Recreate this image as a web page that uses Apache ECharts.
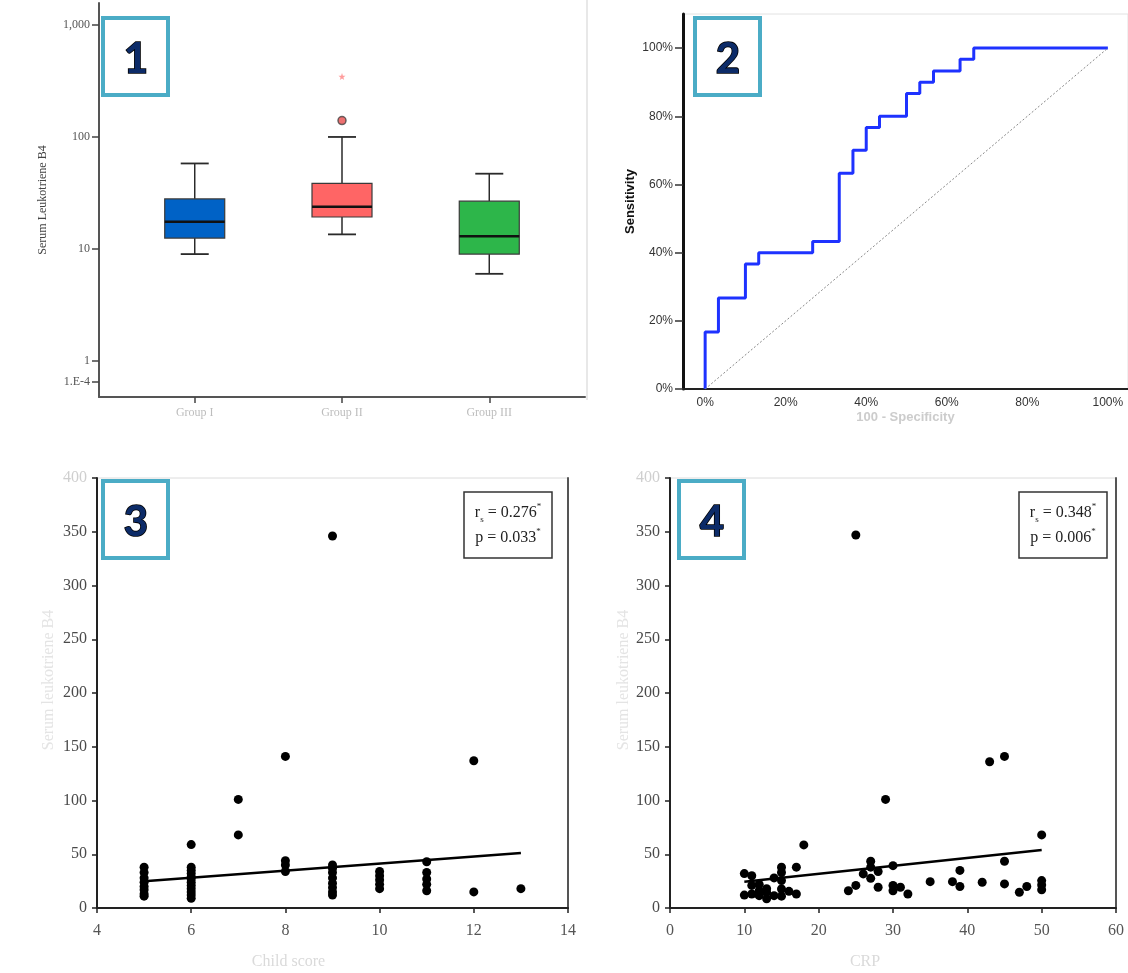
<!DOCTYPE html>
<html><head><meta charset="utf-8">
<script src="https://cdn.jsdelivr.net/npm/echarts@6/dist/echarts.min.js"></script>
<style>html,body{margin:0;padding:0;background:#fff}#c{width:1128px;height:973px}</style>
</head><body><div id="c"></div>
<script>
// ---------- Panel 1: box plot (log scale) ----------
const groups = ['Group I', 'Group II', 'Group III'];
const boxMin    = [9,    13.5, 6];
const boxQ1     = [12.5, 19.3, 9];
const boxMedian = [17.5, 23.8, 13];
const boxQ3     = [28,   38.5, 26.7];
const boxMax    = [58,   100,  47];
const outlierGroup = [2];  const outlierValue = [140];
const extremeGroup = [2];  const extremeValue = [346];
const logTickValues = [0.65, 1, 10, 100, 1000];
const logTickLabels = ['1.E-4', '1', '10', '100', '1,000'];

// ---------- Panel 2: ROC ----------
const rocFpr = [0, 0, 3.3, 10, 13.3, 26.7, 33.3, 36.7, 40, 43.3, 50, 53.3, 56.7, 63.3, 66.7, 100];
const rocTpr = [0, 16.7, 26.7, 36.7, 40, 43.3, 63.3, 70, 76.7, 80, 86.7, 90, 93.3, 96.7, 100, 100];
const chanceX = [0, 100];
const chanceY = [0, 100];
const pctTicks = [0, 20, 40, 60, 80, 100];

// ---------- Panel 3: Child score ----------
const childScore = [5,5,5,5,5,5,5,5, 6,6,6,6,6,6,6,6,6,6,6,6, 7,7, 8,8,8,8, 9,9,9,9,9,9,9,9,9, 10,10,10,10,10, 11,11,11,11,11, 12,12, 13];
const childLtb4  = [38,33,28,24,20,17,13,11, 59,38,35,32,29,27,24,21,18,15,12,9, 101,68, 141,44,40,34, 346,40,37,33,28,23,19,15,12, 34,30,26,22,18, 43,33,27,22,16, 137,15, 18];
const childFitX = [5, 13];
const childFitY = [24.8, 51.2];
const childStat = ['0.276', '0.033'];

// ---------- Panel 4: CRP ----------
const crp     = [10,10,11,11,11,12,12,12,13,13,13,14,14,15,15,15,15,15,16,17,17,18,24,25,25,26,27,27,27,28,28,29,30,30,30,31,32,35,38,39,39,42,43,45,45,45,47,48,50,50,50,50];
const crpLtb4 = [32,12,30,21,13,22,16,11.5,18,14.5,8.5,28,11.5,38,33,25.5,17.7,11,15.5,38,13,58.7,16,21,347,31.7,43.5,38,27.6,34,19.3,101,39.4,21,16,19.3,13,24.5,24.5,35,20,24,136,141,43.5,22.4,14.6,20,68,25.5,21.4,17];
const crpFitX = [10, 50];
const crpFitY = [24.5, 54];
const crpStat = ['0.348', '0.006'];

const sansF = '"Liberation Sans", Arial, sans-serif';
const serifF = '"Liberation Serif", "Times New Roman", serif';
const boxColors = ['#0062c6', '#ff6565', '#2db64a'];

const zip = (a, b) => a.map((v, i) => [v, b[i]]);

function badge(x, y, n) {
  return {
    type: 'group', children: [
      { type: 'rect', shape: { x: x, y: y, width: 65, height: 77 }, style: { fill: '#fff', stroke: '#4bacc6', lineWidth: 4 } },
      { type: 'text', style: { text: n, x: x + 33, y: y + 41, align: 'center', verticalAlign: 'middle',
          font: 'bold 42px Lato, "Open Sans", sans-serif', fill: '#0c2b68', stroke: '#000', lineWidth: 1.6 } }
    ]
  };
}
function statBox(x, y, r, p) {
  const rich = {
    m: { fontFamily: serifF, fontSize: 16, fill: '#222', lineHeight: 22 },
    s: { fontFamily: serifF, fontSize: 9, fill: '#222', verticalAlign: 'bottom', lineHeight: 22 },
    u: { fontFamily: serifF, fontSize: 9, fill: '#222', verticalAlign: 'top', lineHeight: 22 }
  };
  return {
    type: 'group', children: [
      { type: 'rect', shape: { x: x, y: y, width: 88, height: 66 }, style: { fill: '#fff', stroke: '#333', lineWidth: 1.5 } },
      { type: 'text', style: { x: x + 44, y: y + 21, align: 'center', verticalAlign: 'middle', text: '{m|r}{s|s}{m| = ' + r + '}{u|*}', rich: rich } },
      { type: 'text', style: { x: x + 44, y: y + 46, align: 'center', verticalAlign: 'middle', text: '{m|p = ' + p + '}{u|*}', rich: rich } }
    ]
  };
}

const scatterAxisLabel = (valsLight) => ({
  fontFamily: serifF, fontSize: 16, color: '#4a4a4a', margin: 10,
  formatter: v => (v === valsLight ? '{l|' + v + '}' : String(v)),
  rich: { l: { fontFamily: serifF, fontSize: 16, color: '#cfcfcf' } }
});

const option = {
  animation: false,
  backgroundColor: '#fff',
  grid: [
    { left: 99, top: 3, width: 486, height: 394 },
    { left: 683, top: 14, width: 445, height: 375, show: true, borderColor: '#e2e2e2', borderWidth: 1 },
    { left: 97, top: 478, width: 471, height: 430, show: true, borderColor: '#dcdcdc', borderWidth: 1 },
    { left: 670, top: 478, width: 446, height: 430, show: true, borderColor: '#dcdcdc', borderWidth: 1 }
  ],
  xAxis: [
    { type: 'value', gridIndex: 0, min: 0.35, max: 3.65,
      axisLine: { lineStyle: { color: '#555', width: 2 } },
      axisTick: { customValues: [1, 2, 3], length: 6, lineStyle: { color: '#444', width: 1.5 } },
      axisLabel: { customValues: [1, 2, 3], formatter: v => groups[Math.round(v) - 1], fontFamily: serifF, fontSize: 12, color: '#bdbdbd', margin: 10 },
      splitLine: { show: false } },
    { type: 'value', gridIndex: 1, min: -5.5, max: 105,
      name: '100 - Specificity', nameLocation: 'middle', nameGap: 22,
      nameTextStyle: { fontFamily: sansF, fontWeight: 'bold', fontSize: 13, color: '#cccccc' },
      axisLine: { lineStyle: { color: '#222', width: 2 } },
      axisTick: { show: false },
      axisLabel: { customValues: pctTicks, formatter: v => v + '%', fontFamily: sansF, fontSize: 12, color: '#333', margin: 8 },
      splitLine: { show: false } },
    { type: 'value', gridIndex: 2, min: 4, max: 14, interval: 2,
      name: 'Child score', nameLocation: 'middle', nameGap: 46,
      nameTextStyle: { fontFamily: serifF, fontSize: 16, color: '#dadada', padding: [0, 88, 0, 0] },
      axisLine: { lineStyle: { color: '#222', width: 2 } },
      axisTick: { length: 5, lineStyle: { color: '#222', width: 1.5 } },
      axisLabel: { fontFamily: serifF, fontSize: 16, color: '#555', margin: 15 },
      splitLine: { show: false } },
    { type: 'value', gridIndex: 3, min: 0, max: 60, interval: 10,
      name: 'CRP', nameLocation: 'middle', nameGap: 46,
      nameTextStyle: { fontFamily: serifF, fontSize: 16, color: '#dadada', padding: [0, 56, 0, 0] },
      axisLine: { lineStyle: { color: '#222', width: 2 } },
      axisTick: { length: 5, lineStyle: { color: '#222', width: 1.5 } },
      axisLabel: { fontFamily: serifF, fontSize: 16, color: '#555', margin: 15 },
      splitLine: { show: false } }
  ],
  yAxis: [
    { type: 'log', logBase: 10, gridIndex: 0, min: 0.477, max: 1570,
      name: 'Serum Leukotriene B4', nameLocation: 'middle', nameGap: 50,
      nameTextStyle: { fontFamily: serifF, fontSize: 12, color: '#444' },
      axisLine: { show: true, onZero: false, lineStyle: { color: '#555', width: 2 } },
      axisTick: { show: true, customValues: logTickValues, length: 7, lineStyle: { color: '#444', width: 1.5 } },
      axisLabel: { customValues: logTickValues, fontFamily: serifF, fontSize: 12, color: '#555', margin: 9,
        formatter: v => { let best = 0; logTickValues.forEach((t, i) => { if (Math.abs(Math.log(t) - Math.log(v)) < Math.abs(Math.log(logTickValues[best]) - Math.log(v))) best = i; }); return logTickLabels[best]; } },
      splitLine: { show: false } },
    { type: 'value', gridIndex: 1, min: 0, max: 110,
      name: 'Sensitivity', nameLocation: 'middle', nameGap: 46,
      nameTextStyle: { fontFamily: sansF, fontWeight: 'bold', fontSize: 13, color: '#111' },
      axisLine: { onZero: false, lineStyle: { color: '#111', width: 3 } },
      axisTick: { customValues: pctTicks, length: 8, lineStyle: { color: '#333', width: 1.5 } },
      axisLabel: { customValues: pctTicks, formatter: v => v + '%', fontFamily: sansF, fontSize: 12, color: '#333', margin: 10 },
      splitLine: { show: false } },
    { type: 'value', gridIndex: 2, min: 0, max: 400, interval: 50,
      name: 'Serum leukotriene B4', nameLocation: 'middle', nameGap: 40,
      nameTextStyle: { fontFamily: serifF, fontSize: 16, color: '#e4e4e4', padding: [0, 0, 0, 26] },
      axisLine: { lineStyle: { color: '#222', width: 2 } },
      axisTick: { length: 5, lineStyle: { color: '#222', width: 1.5 } },
      axisLabel: scatterAxisLabel(400),
      splitLine: { show: false } },
    { type: 'value', gridIndex: 3, min: 0, max: 400, interval: 50,
      name: 'Serum leukotriene B4', nameLocation: 'middle', nameGap: 38,
      nameTextStyle: { fontFamily: serifF, fontSize: 16, color: '#e4e4e4', padding: [0, 0, 0, 26] },
      axisLine: { lineStyle: { color: '#222', width: 2 } },
      axisTick: { length: 5, lineStyle: { color: '#222', width: 1.5 } },
      axisLabel: scatterAxisLabel(400),
      splitLine: { show: false } },
    { type: 'value', gridIndex: 2, position: 'right', min: 0, max: 400,
      axisLine: { show: true, onZero: false, lineStyle: { color: '#555', width: 2 } }, axisTick: { show: false }, axisLabel: { show: false }, splitLine: { show: false } },
    { type: 'value', gridIndex: 3, position: 'right', min: 0, max: 400,
      axisLine: { show: true, onZero: false, lineStyle: { color: '#555', width: 2 } }, axisTick: { show: false }, axisLabel: { show: false }, splitLine: { show: false } }
  ],
  series: [
    {
      type: 'custom', xAxisIndex: 0, yAxisIndex: 0,
      encode: { x: 0, y: [1, 2, 3, 4, 5] },
      data: groups.map((g, i) => [i + 1, boxMin[i], boxQ1[i], boxMedian[i], boxQ3[i], boxMax[i]]),
      renderItem: function (params, api) {
        const x = api.value(0);
        const p = [1, 2, 3, 4, 5].map(k => api.coord([x, api.value(k)]));
        const cx = p[0][0], half = 30, cap = 14;
        const ln = (x1, y1, x2, y2, w, c) => ({ type: 'line', shape: { x1, y1, x2, y2 }, style: { stroke: c || '#2a2a2a', lineWidth: w } });
        return { type: 'group', children: [
          ln(cx, p[0][1], cx, p[1][1], 1.5),
          ln(cx, p[3][1], cx, p[4][1], 1.5),
          ln(cx - cap, p[0][1], cx + cap, p[0][1], 1.8),
          ln(cx - cap, p[4][1], cx + cap, p[4][1], 1.8),
          { type: 'rect', shape: { x: cx - half, y: p[3][1], width: 2 * half, height: p[1][1] - p[3][1] },
            style: { fill: boxColors[params.dataIndex], stroke: '#3a3a3a', lineWidth: 1.2 } },
          ln(cx - half, p[2][1], cx + half, p[2][1], 2.5, '#111')
        ] };
      }
    },
    { type: 'scatter', xAxisIndex: 0, yAxisIndex: 0, data: zip(outlierGroup, outlierValue),
      symbol: 'circle', symbolSize: 8, itemStyle: { color: '#e84c4c', borderColor: '#444', borderWidth: 1.5 } },
    { type: 'scatter', xAxisIndex: 0, yAxisIndex: 0, data: zip(extremeGroup, extremeValue),
      symbol: 'path://M0,-10 L2.4,-3.1 9.5,-3.1 3.8,1.2 5.9,8.1 0,4 -5.9,8.1 -3.8,1.2 -9.5,-3.1 -2.4,-3.1Z', symbolSize: 7,
      itemStyle: { color: '#ff8585' } },
    { type: 'line', xAxisIndex: 1, yAxisIndex: 1, data: zip(rocFpr, rocTpr), step: 'end',
      symbol: 'none', lineStyle: { color: '#1e32ff', width: 3 } },
    { type: 'line', xAxisIndex: 1, yAxisIndex: 1, data: zip(chanceX, chanceY), symbol: 'none',
      lineStyle: { color: '#888', width: 1, type: [2, 2] } },
    { type: 'scatter', xAxisIndex: 2, yAxisIndex: 2, data: zip(childScore, childLtb4),
      symbol: 'circle', symbolSize: 9, itemStyle: { color: '#000', opacity: 1 } },
    { type: 'line', xAxisIndex: 2, yAxisIndex: 2, data: zip(childFitX, childFitY), symbol: 'none',
      lineStyle: { color: '#000', width: 2.5 } },
    { type: 'scatter', xAxisIndex: 3, yAxisIndex: 3, data: zip(crp, crpLtb4),
      symbol: 'circle', symbolSize: 9, itemStyle: { color: '#000', opacity: 1 } },
    { type: 'line', xAxisIndex: 3, yAxisIndex: 3, data: zip(crpFitX, crpFitY), symbol: 'none',
      lineStyle: { color: '#000', width: 2.5 } }
  ],
  graphic: [
    { type: 'line', shape: { x1: 587, y1: 0, x2: 587, y2: 400 }, style: { stroke: '#e0e0e0', lineWidth: 1.5 } },
    badge(103, 18, '1'),
    badge(695, 18, '2'),
    badge(103, 481, '3'),
    badge(679, 481, '4'),
    statBox(464, 492, childStat[0], childStat[1]),
    statBox(1019, 492, crpStat[0], crpStat[1])
  ]
};

const chart = echarts.init(document.getElementById('c'), null, { renderer: 'canvas' });
chart.setOption(option);
</script>
</body></html>
